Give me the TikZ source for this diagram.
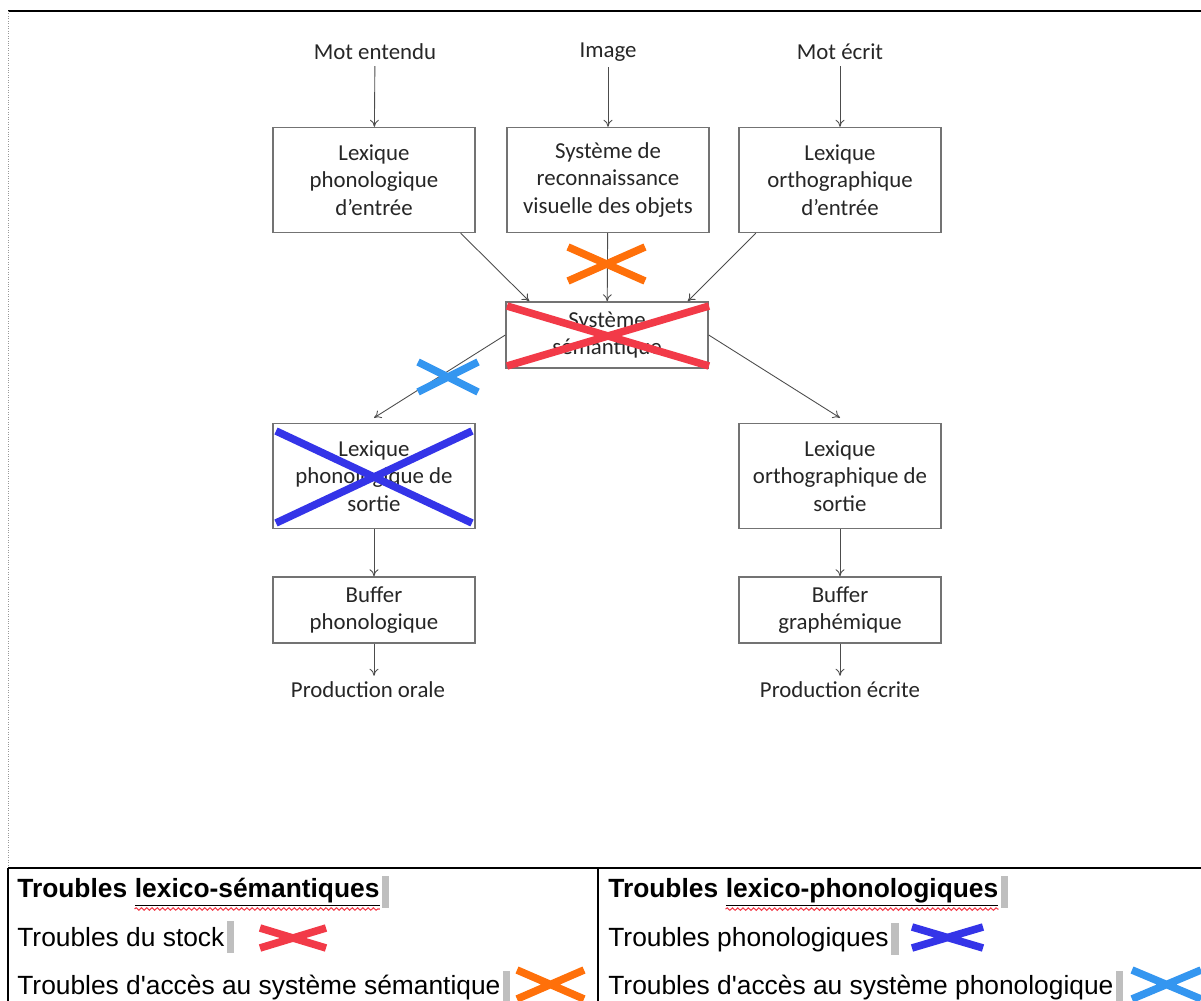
\documentclass[tikz,border=0pt]{standalone}
\usepackage{fontspec}
\setmainfont{Carlito}
\newfontfamily\legfont{Liberation Sans}
\usetikzlibrary{positioning,arrows.meta,decorations.pathmorphing}
\definecolor{rouge}{RGB}{242,58,72}
\definecolor{orange}{RGB}{255,112,10}
\definecolor{bleu}{RGB}{52,52,232}
\definecolor{bleuclair}{RGB}{52,150,240}
\tikzset{
  boite/.style={draw=black!55, line width=0.8pt, fill=white, text=black!85, align=center,
    minimum width=4.04cm, font=\fontsize{13}{15.8}\selectfont},
  entree/.style={text=black!85, font=\fontsize{13}{15.8}\selectfont},
  fleche/.style={draw=black!70, line width=0.5pt, -{To[length=4pt,width=5pt]}},
  croix/.style={line width=4.3pt},
  legende/.style={inner sep=0pt, anchor=base west, font=\legfont\fontsize{15}{17}\selectfont},
  curseur/.style={fill=black!25, inner sep=0pt, minimum width=0.15cm, minimum height=0.64cm},
  vague/.style={draw=rouge, line width=0.6pt, decorate, decoration={snake, amplitude=0.7pt, segment length=3pt}}
}
\begin{document}
\begin{tikzpicture}[x=0.02cm,y=-0.02cm]
    \useasboundingbox (0,0) rectangle (1201,1001);
    % cadre
    \draw[line width=1.6pt] (8,11) -- (1201,11);
    \draw[black!40, densely dotted] (8,11) -- (8,868);
    % entrees
    \node[entree] (motent) at (375,52) {Mot entendu};
    \node[entree] (image) at (608,52) {Image};
    \node[entree] (motecr) at (840,52) {Mot écrit};
    \node[boite, minimum height=2.1cm] (lpe) at (374,180) {Lexique\\phonologique\\d’entrée};
    \node[boite, minimum height=2.1cm] (svo) at (608,180) {Système de\\reconnaissance\\visuelle des objets};
    \node[boite, minimum height=2.1cm] (loe) at (840,180) {Lexique\\orthographique\\d’entrée};
    \node[boite, minimum height=1.32cm] (sem) at (607,335) {Système\\sémantique};
    \node[boite, minimum height=2.1cm] (lps) at (374,476) {Lexique\\phonologique de\\sortie};
    \node[boite, minimum height=2.1cm] (los) at (840,476) {Lexique\\orthographique de\\sortie};
    \node[boite, minimum height=1.32cm] (bph) at (374,610) {Buffer\\phonologique};
    \node[boite, minimum height=1.32cm] (bgr) at (840,610) {Buffer\\graphémique};
    \node[entree] (prodor) at (368,690) {Production orale};
    \node[entree] (prodec) at (840,690) {Production écrite};
    % fleches
    \draw[fleche] (motent) -- (lpe);
    \draw[fleche] (image) -- (svo);
    \draw[fleche] (motecr.south -| loe.north) -- (loe);
    \draw[fleche] ([xshift=-0.3cm]lpe.south east) -- ([xshift=0.48cm]sem.north west);
    \draw[fleche] (svo) -- (sem);
    \draw[fleche] ([xshift=0.35cm]loe.south west) -- ([xshift=-0.42cm]sem.north east);
    \draw[fleche] (sem.west) -- ([yshift=0.1cm]lps.north);
    \draw[fleche] (sem.east) -- ([yshift=0.1cm]los.north);
    \draw[fleche] (lps) -- (bph);
    \draw[fleche] (los) -- (bgr);
    \draw[fleche] (bph.south) -- (bph.south |- prodor.north);
    \draw[fleche] (bgr) -- (prodec);
    % croix
    \draw[croix, orange] (568,247) -- (645,281) (568,281) -- (645,247);
    \draw[croix, rouge] (507,306) -- (709,366) (507,366) -- (709,306);
    \draw[croix, bleuclair] (418,362) -- (478,392) (418,392) -- (478,362);
    \draw[croix, bleu] (276,431) -- (472,523) (276,523) -- (472,431);
    % legende
    \draw[line width=1pt] (8,868) -- (1201,868);
    \draw[line width=0.8pt] (8,868) -- (8,1001);
    \draw[line width=0.8pt] (598,868) -- (598,1001);
    \node[legende, font=\legfont\bfseries\fontsize{15}{17}\selectfont] (ls1) at (17,897) {Troubles};
    \node[legende, font=\legfont\bfseries\fontsize{15}{17}\selectfont] (ls1b) at ([xshift=4pt]ls1.base east) {\underline{lexico-sémantiques}};
    \node[curseur, right=1pt of ls1b] {};
    \draw[vague] ([yshift=-1.5pt]ls1b.south west) -- ([yshift=-1.5pt]ls1b.south east);
    \node[legende] (ls2) at (17,946) {Troubles du stock};
    \node[curseur, right=1pt of ls2] {};
    \node[legende] (ls3) at (17,994) {Troubles d'accès au système sémantique};
    \node[curseur, right=1pt of ls3] {};
    \draw[croix, rouge] (260,928) -- (326,948) (260,948) -- (326,928);
    \draw[croix, orange] (517,999) -- (584,970) (517,970) -- (584,999);
    \node[legende, font=\legfont\bfseries\fontsize{15}{17}\selectfont] (lp1) at (608,897) {Troubles};
    \node[legende, font=\legfont\bfseries\fontsize{15}{17}\selectfont] (lp1b) at ([xshift=4pt]lp1.base east) {\underline{lexico-phonologiques}};
    \node[curseur, right=1pt of lp1b] {};
    \draw[vague] ([yshift=-1.5pt]lp1b.south west) -- ([yshift=-1.5pt]lp1b.south east);
    \node[legende] (lp2) at (608,946) {Troubles phonologiques};
    \node[curseur, right=1pt of lp2] {};
    \node[legende] (lp3) at (608,994) {Troubles d'accès au système phonologique};
    \node[curseur, right=1pt of lp3] {};
    \draw[croix, bleu] (912,927) -- (983,948) (912,948) -- (983,927);
    \draw[croix, bleuclair] (1132,999) -- (1201,970) (1132,970) -- (1201,999);
\end{tikzpicture}
\end{document}
